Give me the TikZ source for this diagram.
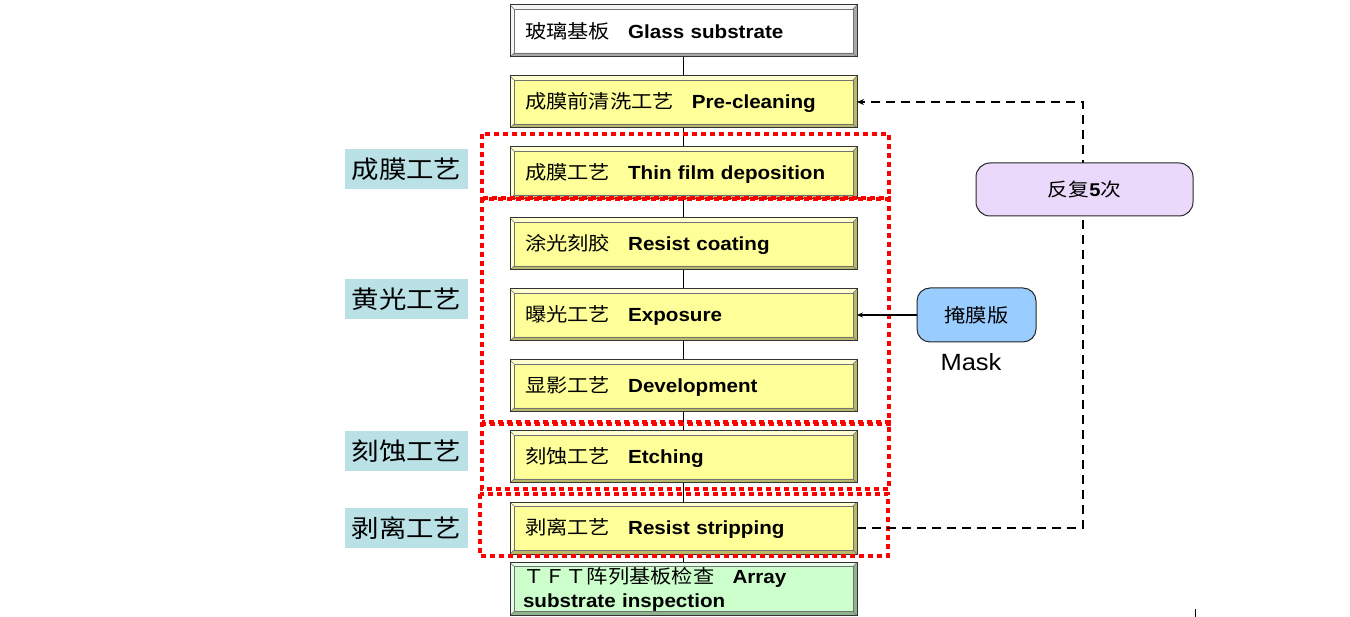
\documentclass[tikz,border=0pt]{standalone}
\usepackage{fontspec}
\setmainfont[FakeStretch=1.085]{Liberation Sans}
\newfontfamily\cjk[FakeStretch=1.12]{Noto Sans CJK SC}
\usetikzlibrary{arrows.meta,calc}
\definecolor{ylw}{HTML}{FFFF99}
\definecolor{ylwlt}{HTML}{FFFFD0}
\definecolor{ylwdk}{HTML}{B8B86A}
\definecolor{grn}{HTML}{CCFFCC}
\definecolor{grnlt}{HTML}{E6FFE6}
\definecolor{grndk}{HTML}{8FB38F}
\definecolor{whtlt}{HTML}{F4F4F4}
\definecolor{whtdk}{HTML}{A8A8A8}
\definecolor{teal}{HTML}{B9E1E6}
\definecolor{lav}{HTML}{EAD9FA}
\definecolor{maskblue}{HTML}{99CCFF}
\newcommand\bevel[3]{%
  \fill[#2] (#1.north west) -- (#1.north east) -- ([shift={(-4,4)}]#1.north east)
    -- ([shift={(4,4)}]#1.north west) -- ([shift={(4,-4)}]#1.south west) -- (#1.south west) -- cycle;
  \fill[#3] (#1.south east) -- (#1.north east) -- ([shift={(-4,4)}]#1.north east)
    -- ([shift={(-4,-4)}]#1.south east) -- ([shift={(4,-4)}]#1.south west) -- (#1.south west) -- cycle;
  \draw[line width=0.5pt, black!55] ([shift={(4,4)}]#1.north west) rectangle ([shift={(-4,-4)}]#1.south east);
  \draw[line width=0.5pt, black!55] (#1.north west) -- ([shift={(4,4)}]#1.north west)
    (#1.north east) -- ([shift={(-4,4)}]#1.north east)
    (#1.south east) -- ([shift={(-4,-4)}]#1.south east)
    (#1.south west) -- ([shift={(4,-4)}]#1.south west);
  \draw[line width=1pt, black!80] (#1.north west) rectangle (#1.south east);
}
\tikzset{
  x=1pt, y=-1pt,
  stepbox/.style={rectangle, minimum width=347pt, minimum height=52pt, text width=317pt,
    inner xsep=15pt, inner ysep=0pt, outer sep=0pt, align=left,
    font=\fontsize{19}{24}\selectfont},
  ybox/.style={stepbox, fill=ylw},
  lbl/.style={rectangle, fill=teal, minimum width=123pt, minimum height=40pt, inner sep=0pt,
    font=\cjk\fontsize{24.5}{28}\selectfont},
  redframe/.style={draw=red, line width=4.5pt, dash pattern=on 5pt off 4pt},
  conn/.style={line width=1.6pt, black},
  fb/.style={line width=2pt, black, dash pattern=on 9pt off 6pt},
}
\begin{document}
\begin{tikzpicture}
\useasboundingbox (0,0) rectangle (1350,617);
% steps
\node[stepbox, fill=white] (b1) at (683.5,31) {{\cjk 玻璃基板}\hspace{18pt}\textbf{Glass substrate}};
\node[ybox] (b2) at (683.5,102) {{\cjk 成膜前清洗工艺}\hspace{18pt}\textbf{Pre-cleaning}};
\node[ybox] (b3) at (683.5,173) {{\cjk 成膜工艺}\hspace{18pt}\textbf{Thin film deposition}};
\node[ybox] (b4) at (683.5,244) {{\cjk 涂光刻胶}\hspace{18pt}\textbf{Resist coating}};
\node[ybox] (b5) at (683.5,315) {{\cjk 曝光工艺}\hspace{18pt}\textbf{Exposure}};
\node[ybox] (b6) at (683.5,386) {{\cjk 显影工艺}\hspace{18pt}\textbf{Development}};
\node[ybox] (b7) at (683.5,457) {{\cjk 刻蚀工艺}\hspace{18pt}\textbf{Etching}};
\node[ybox] (b8) at (683.5,528) {{\cjk 剥离工艺}\hspace{18pt}\textbf{Resist stripping}};
\node[stepbox, fill=grn, minimum height=53pt, inner xsep=13pt, text width=321pt] (b9) at (683.5,589)
  {{\cjk ＴＦＴ阵列基板检查}\hspace{18pt}\textbf{Array}\\\textbf{substrate inspection}};
% connectors
\draw[conn] (b1.south) -- (b2.north);
\draw[conn] (b2.south) -- (b3.north);
\draw[conn] (b3.south) -- (b4.north);
\draw[conn] (b4.south) -- (b5.north);
\draw[conn] (b5.south) -- (b6.north);
\draw[conn] (b6.south) -- (b7.north);
\draw[conn] (b7.south) -- (b8.north);
\draw[conn] (b8.south) -- (b9.north);
% bevels
\bevel{b1}{whtlt}{whtdk}
\bevel{b2}{ylwlt}{ylwdk}
\bevel{b3}{ylwlt}{ylwdk}
\bevel{b4}{ylwlt}{ylwdk}
\bevel{b5}{ylwlt}{ylwdk}
\bevel{b6}{ylwlt}{ylwdk}
\bevel{b7}{ylwlt}{ylwdk}
\bevel{b8}{ylwlt}{ylwdk}
\bevel{b9}{grnlt}{grndk}
% red dotted frames
\draw[redframe] (482,134) rectangle (889,199);
\draw[redframe] (482,198) rectangle (889,424);
\draw[redframe] (482,422) rectangle (889,489);
\draw[redframe] (480,494) rectangle (888,556);
% left labels
\node[lbl] (l1) at (406.5,169) {成膜工艺};
\node[lbl] (l2) at (406.5,299) {黄光工艺};
\node[lbl] (l3) at (406.5,451) {刻蚀工艺};
\node[lbl] (l4) at (406.5,528) {剥离工艺};
% feedback loop
\coordinate (c1) at (1083,528);
\coordinate (c2) at (1083,102);
\draw[fb, -{Stealth[length=7pt,width=6pt]}] (b8.east) -- (c1) -- (c2) -- (b2.east);
\node[draw=black!85, line width=1pt, fill=lav, rounded corners=14pt, minimum width=217pt,
  minimum height=53pt, inner sep=0pt, font=\fontsize{18.5}{22}\selectfont] (rep) at (1084.5,189.5)
  {{\cjk 反复}\textbf{5}{\cjk 次}};
% mask
\node[draw=black!85, line width=1pt, fill=maskblue, rounded corners=13pt, minimum width=119pt,
  minimum height=54pt, inner sep=0pt, font=\cjk\fontsize{19}{22}\selectfont] (mask) at (976.5,315) {掩膜版};
\draw[line width=1.2pt, -{Stealth[length=6pt,width=5pt]}] (mask.west) -- (b5.east);
\node[font=\fontsize{23.5}{26}\selectfont, inner sep=0pt] (masklbl) at (971,362) {Mask};
% small tick at bottom right
\draw[line width=0.8pt] (1195,609) -- (1195,617);
\end{tikzpicture}
\end{document}
